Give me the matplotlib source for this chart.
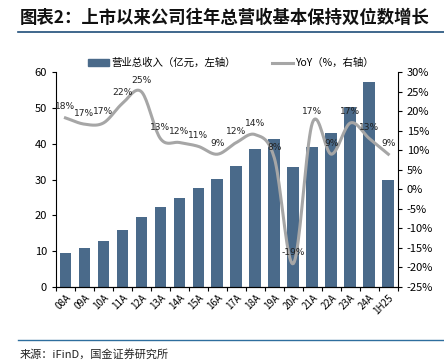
import matplotlib.pyplot as plt
import numpy as np
from matplotlib.lines import Line2D
from matplotlib.patches import Patch

plt.rcParams['font.family'] = ['Noto Sans CJK SC', 'DejaVu Sans']

# data
periods = ['08A', '09A', '10A', '11A', '12A', '13A', '14A', '15A', '16A',
           '17A', '18A', '19A', '20A', '21A', '22A', '23A', '24A', '1H25']
revenue = [9.4, 11.0, 12.9, 15.8, 19.6, 22.3, 24.9, 27.6, 30.1,
           33.8, 38.5, 41.4, 33.6, 39.2, 43.1, 50.4, 57.2, 29.9]
yoy = [18.3, 16.7, 17.0, 22.0, 25.0, 13.0, 12.0, 11.0, 9.0,
       12.0, 14.0, 8.0, -19.0, 17.0, 9.0, 17.0, 13.0, 9.0]
yoy_labels = ['18%', '17%', '17%', '22%', '25%', '13%', '12%', '11%', '9%',
              '12%', '14%', '8%', '-19%', '17%', '9%', '17%', '13%', '9%']

bar_color = '#4A6A8A'
line_color = '#A6A6A6'


def smooth(xs, ys, n=20):
    # catmull-rom curve through the points, like a smoothed excel line
    xs = np.asarray(xs, float)
    ys = np.asarray(ys, float)
    px = np.concatenate([[2 * xs[0] - xs[1]], xs, [2 * xs[-1] - xs[-2]]])
    py = np.concatenate([[2 * ys[0] - ys[1]], ys, [2 * ys[-1] - ys[-2]]])
    outx, outy = [], []
    t = np.linspace(0, 1, n, endpoint=False)
    for i in range(1, len(px) - 2):
        for arr, out in ((px, outx), (py, outy)):
            p0, p1, p2, p3 = arr[i - 1], arr[i], arr[i + 1], arr[i + 2]
            out.extend(0.5 * ((2 * p1) + (-p0 + p2) * t
                              + (2 * p0 - 5 * p1 + 4 * p2 - p3) * t ** 2
                              + (-p0 + 3 * p1 - 3 * p2 + p3) * t ** 3))
    outx.append(xs[-1])
    outy.append(ys[-1])
    return outx, outy


fig = plt.figure(figsize=(4.44, 3.61), dpi=100)
ax = fig.add_axes([0.126, 0.205, 0.77, 0.595])
x = np.arange(len(periods))

ax.bar(x, revenue, width=0.62, color=bar_color, zorder=2)
ax.set_xlim(-0.5, len(periods) - 0.5)
ax.set_ylim(0, 60)
ax.set_yticks(range(0, 61, 10))
ax.set_xticks(x)
ax.set_xticklabels(periods, rotation=45, ha='right', rotation_mode='anchor', fontsize=7)
ax.set_xticks(np.arange(-0.5, len(periods)), minor=True)
ax.tick_params(axis='x', which='major', length=0, pad=4)
ax.tick_params(axis='x', which='minor', length=3, width=0.8, direction='out')
ax.tick_params(axis='y', labelsize=8, length=3, width=0.8, direction='out')
ax.spines['top'].set_visible(False)
ax.spines['right'].set_visible(False)

ax2 = ax.twinx()
lx, ly = smooth(x, yoy)
ax2.plot(lx, ly, color=line_color, lw=2.2, zorder=3)
ax2.set_ylim(-25, 30)
ax2.set_yticks(range(-25, 31, 5))
ax2.set_yticklabels([f'{v}%' for v in range(-25, 31, 5)])
ax2.tick_params(axis='y', labelsize=8, length=3, width=0.8, direction='out')
ax2.spines['top'].set_visible(False)
ax2.spines['left'].set_visible(False)
for xi, v, s in zip(x, yoy, yoy_labels):
    ax2.annotate(s, (xi, v), xytext=(0, 11), textcoords='offset pixels',
                 ha='center', va='center', fontsize=6.6, color='#222222',
                 family=['DejaVu Sans'])

handles = [Patch(color=bar_color), Line2D([], [], color=line_color, lw=2.2)]
fig.legend(handles, ['营业总收入（亿元，左轴）', 'YoY（%，右轴）'],
           loc='center', bbox_to_anchor=(0.52, 0.825), ncol=2, frameon=False,
           fontsize=7.5, handlelength=2.0, handleheight=0.6, columnspacing=3.5,
           handletextpad=0.2)

fig.text(0.045, 0.95, '图表2：上市以来公司往年总营收基本保持双位数增长',
         fontsize=12.5, fontweight='bold', ha='left', va='center', color='#111111')
fig.add_artist(Line2D([0.04, 1.0], [0.91, 0.91], color='#1F4E79', lw=1.2))
fig.add_artist(Line2D([0.04, 1.0], [0.058, 0.058], color='#2E6E9E', lw=1.0))
fig.text(0.045, 0.018, '来源：iFinD，国金证券研究所', fontsize=8,
         ha='left', va='center', color='#222222')

fig.savefig('out.png', dpi=100)
